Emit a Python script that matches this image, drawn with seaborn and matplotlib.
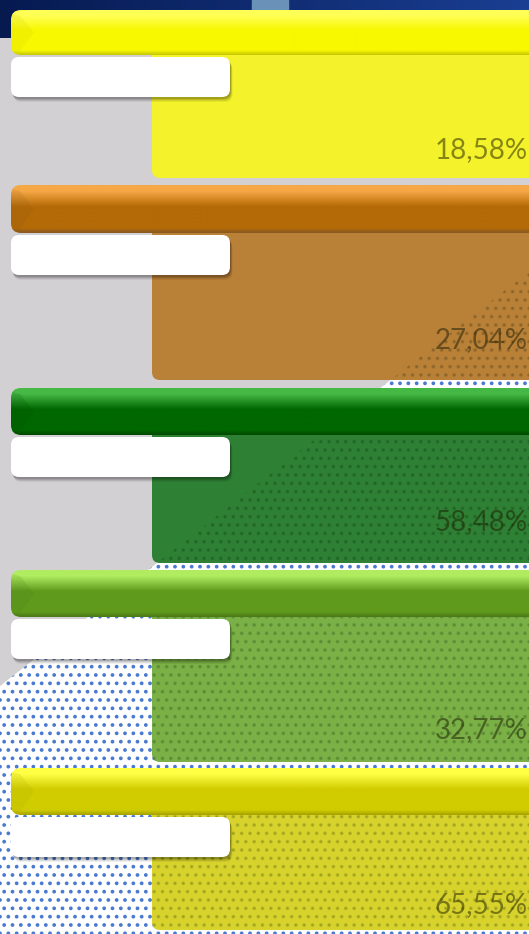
import numpy as np
import matplotlib
matplotlib.use("Agg")
import matplotlib.pyplot as plt
from matplotlib.patches import FancyBboxPatch, Polygon, Rectangle
from matplotlib.colors import to_rgb
import seaborn as sns

# values shown on the five panels
values = [18.58, 27.04, 58.48, 32.77, 65.55]

# panel colours: header highlight / main / edge, and body fill
head_light = ["#ffff55", "#f5a845", "#45b845", "#b0ec60", "#ffff45"]
head_main = ["#f8f800", "#b46a06", "#006800", "#5f9a1c", "#d0cc00"]
head_edge = ["#c8c800", "#8a5a20", "#004a00", "#4a7a18", "#a8a400"]
body_color = ["#f4f22a", "#b98038", "#2e8034", "#7ab046", "#d7d32c"]

# layout (pixel rows of the 529x934 picture)
head_top = [10, 185, 388, 570, 768]
head_bot = [55, 233, 435, 617, 815]
body_bot = [178, 380, 563, 762, 930]
label_y = [150, 340, 522, 730, 905]

sns.set_theme(style="white")
plt.rcParams["font.family"] = ["Lato", "DejaVu Sans"]
plt.rcParams["hatch.linewidth"] = 1.5

fig = plt.figure(figsize=(5.29, 9.34), dpi=100)
ax = fig.add_axes([0, 0, 1, 1])
W, H = 529, 934

# background: grey, dotted area below the diagonal, blue band on top
ax.add_patch(Rectangle((0, 0), W, H, color="#d2d0d2", zorder=0))
dots = Polygon([(0, 686), (W + 30, 248), (W + 30, H + 30), (0, H + 30)],
               facecolor="white", edgecolor="#4a7ad0", hatch="..", lw=0, zorder=1)
ax.add_patch(dots)
band = np.linspace(0, 1, 64)[None, :, None] * (np.array(to_rgb("#1a3e92")) - np.array(to_rgb("#061a50"))) + np.array(to_rgb("#061a50"))
ax.imshow(band, extent=(0, W, 38, 0), aspect="auto", zorder=2)
ax.add_patch(Rectangle((252, 0), 36, 12, color="#6a92b8", zorder=2))


def gradient(light, main, edge, n=60):
    stops = [(0.0, light), (0.12, light), (0.45, main), (0.9, main), (1.0, edge)]
    pos = np.linspace(0, 1, n)
    cols = np.zeros((n, 1, 3))
    for k in range(3):
        cols[:, 0, k] = np.interp(pos, [s[0] for s in stops], [to_rgb(s[1])[k] for s in stops])
    return cols


for i, v in enumerate(values):
    # body
    body = FancyBboxPatch((152, head_bot[i] - 10), W + 40 - 152, body_bot[i] - head_bot[i] + 10,
                          boxstyle="round,pad=0,rounding_size=8",
                          facecolor=body_color[i], lw=0, zorder=3)
    ax.add_patch(body)
    shade = FancyBboxPatch((152, head_bot[i] - 10), W + 40 - 152, body_bot[i] - head_bot[i] + 10,
                           boxstyle="round,pad=0,rounding_size=8",
                           fill=False, edgecolor=(0, 0.08, 0, 0.16), hatch="..", lw=0, zorder=4)
    ax.add_patch(shade)
    shade.set_clip_path(dots)

    # glossy header
    hh = head_bot[i] - head_top[i]
    head = FancyBboxPatch((11, head_top[i]), W + 40, hh,
                          boxstyle="round,pad=0,rounding_size=10",
                          facecolor="none", lw=0, zorder=6)
    ax.add_patch(head)
    im = ax.imshow(gradient(head_light[i], head_main[i], head_edge[i]),
                   extent=(11, W + 40, head_bot[i], head_top[i]), aspect="auto", zorder=6)
    im.set_clip_path(head)
    bevel = Polygon([(11, head_top[i] + 4), (20, head_top[i] + 6), (34, head_top[i] + hh * 0.5),
                     (20, head_bot[i] - 4), (11, head_bot[i])],
                    color=head_edge[i], alpha=0.15, lw=0, zorder=7)
    ax.add_patch(bevel)
    bevel.set_clip_path(head)

    # white label box with soft shadow
    bt = head_bot[i] + 2
    for k, a in enumerate([0.06, 0.08, 0.1, 0.14]):
        d = 5 - k
        ax.add_patch(FancyBboxPatch((11 + d * 0.5, bt + d), 219, 40,
                                    boxstyle="round,pad=0,rounding_size=8",
                                    facecolor="black", alpha=a, lw=0, zorder=8))
    ax.add_patch(FancyBboxPatch((11, bt), 219, 40, boxstyle="round,pad=0,rounding_size=8",
                                facecolor="white", lw=0, zorder=9))

    # percentage label
    ax.text(W - 1, label_y[i], f"{v:.2f}".replace(".", ",") + "%", fontsize=20,
            color=(0.1, 0.1, 0.0, 0.5), ha="right", va="center", zorder=10)

ax.set_xlim(0, W)
ax.set_ylim(H, 0)
ax.axis("off")
fig.savefig("out.png", dpi=100)
